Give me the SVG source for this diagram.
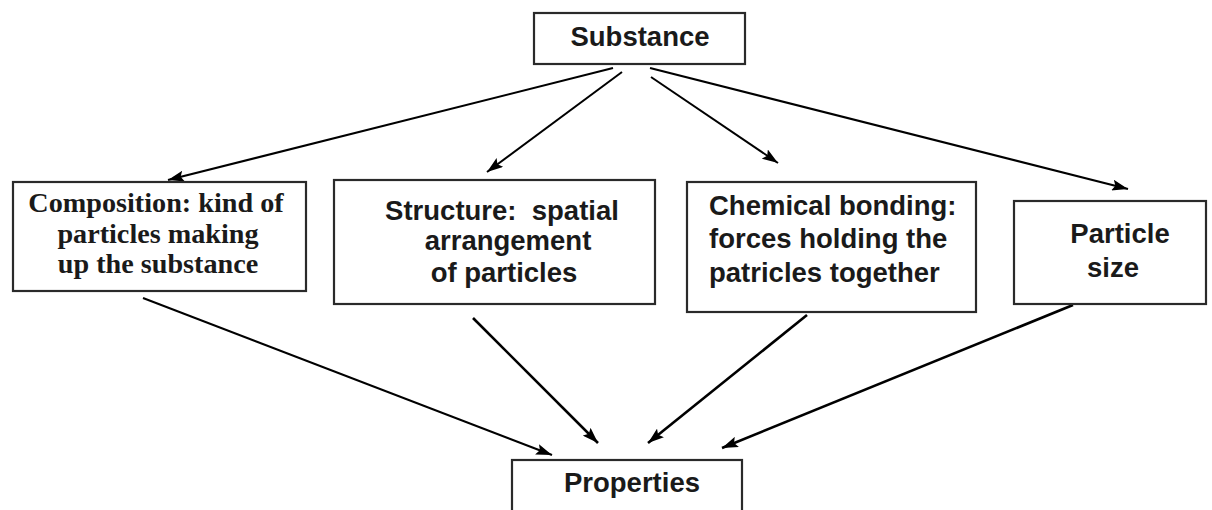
<svg xmlns="http://www.w3.org/2000/svg" width="1212" height="510" viewBox="0 0 1212 510">
<style>
.box{fill:#fff;stroke:#2a2a2a;stroke-width:2.2}
.sans{font-family:"Liberation Sans",Arial,sans-serif;font-weight:bold;font-size:27.5px;fill:#1a1a1a}
.serif{font-family:"Liberation Serif","Times New Roman",serif;font-weight:bold;font-size:28.2px;fill:#1a1a1a}
.c{text-anchor:middle}
.edge{stroke:#000;stroke-width:2;fill:none;marker-end:url(#ah)}
.thick{stroke-width:2.6}
</style>
<defs>
<marker id="ah" markerUnits="userSpaceOnUse" markerWidth="17" markerHeight="11" refX="16" refY="5.5" orient="auto">
<path d="M0,0 L16,5.5 L0,11 L3,5.5 z" fill="#000"/>
</marker>
</defs>
<rect width="1212" height="510" fill="#fff"/>
<g id="connectors">
<line class="edge" x1="613" y1="68" x2="168" y2="180"/>
<line class="edge" x1="622" y1="72" x2="487" y2="172"/>
<line class="edge" x1="651" y1="77" x2="778" y2="163"/>
<line class="edge" x1="650" y1="68" x2="1128" y2="189"/>
<line class="edge" x1="143" y1="298" x2="552" y2="455"/>
<line class="edge thick" x1="473" y1="318" x2="598" y2="443"/>
<line class="edge thick" x1="807" y1="315" x2="648" y2="443"/>
<line class="edge thick" x1="1073" y1="305" x2="722" y2="448"/>
</g>
<g id="substance">
<rect class="box" x="534" y="13" width="211" height="51"/>
<text class="sans c" x="640" y="46">Substance</text>
</g>
<g id="composition">
<rect class="box" x="13" y="182" width="293" height="109"/>
<text class="serif c" x="156" y="212">Composition: kind of</text>
<text class="serif c" x="158" y="243">particles making</text>
<text class="serif c" x="158" y="273">up the substance</text>
</g>
<g id="structure">
<rect class="box" x="334" y="180" width="321" height="124"/>
<text class="sans c" x="502" y="220" xml:space="preserve">Structure:  spatial</text>
<text class="sans c" x="508" y="250">arrangement</text>
<text class="sans c" x="504" y="282">of particles</text>
</g>
<g id="bonding">
<rect class="box" x="687" y="182" width="289" height="130"/>
<text class="sans" x="709" y="215">Chemical bonding:</text>
<text class="sans" x="709" y="248">forces holding the</text>
<text class="sans" x="709" y="282">patricles together</text>
</g>
<g id="size">
<rect class="box" x="1014" y="201" width="192" height="103"/>
<text class="sans c" x="1120" y="243">Particle</text>
<text class="sans c" x="1113" y="277">size</text>
</g>
<g id="properties">
<rect class="box" x="512" y="460" width="230" height="60"/>
<text class="sans c" x="632" y="492">Properties</text>
</g>
</svg>
